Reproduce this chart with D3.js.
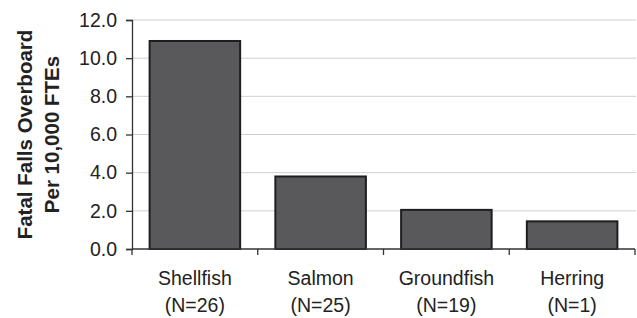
<!DOCTYPE html>
<html>
<head>
<meta charset="utf-8">
<script src="https://cdn.jsdelivr.net/npm/d3@7"></script>
<style>
  body { margin: 0; background: #fff; }
  text { font-family: "Liberation Sans", Arial, sans-serif; fill: #222; }
</style>
</head>
<body>
<div id="chart"></div>
<script>
// data
const categories = ["Shellfish", "Salmon", "Groundfish", "Herring"];
const counts = ["(N=26)", "(N=25)", "(N=19)", "(N=1)"];
const rates = [10.9, 3.8, 2.05, 1.45];
const yTicks = [0, 2, 4, 6, 8, 10, 12];
const titleLines = ["Fatal Falls Overboard", "Per 10,000 FTEs"];

// dimensions
const width = 637, height = 318;
const margin = {top: 20, right: 2, bottom: 69, left: 132};

const svg = d3.select("#chart").append("svg")
    .attr("width", width).attr("height", height);

const x = d3.scaleBand()
    .domain(categories)
    .range([margin.left, width - margin.right])
    .paddingInner(0.28)
    .paddingOuter(0.14);

const y = d3.scaleLinear()
    .domain([0, 12])
    .range([height - margin.bottom, margin.top]);

// gridlines
svg.append("g")
  .selectAll("line")
  .data(yTicks.filter(d => d > 0))
  .join("line")
    .attr("x1", margin.left).attr("x2", width - 1)
    .attr("y1", d => y(d)).attr("y2", d => y(d))
    .attr("stroke", "#cfcfcf").attr("stroke-width", 1);

// bars
svg.append("g")
  .selectAll("rect")
  .data(rates)
  .join("rect")
    .attr("x", (d, i) => x(categories[i]))
    .attr("y", d => y(d))
    .attr("width", x.bandwidth())
    .attr("height", d => y(0) - y(d))
    .attr("fill", "#59595b")
    .attr("stroke", "#1e1e1e")
    .attr("stroke-width", 2);

// y axis
const yAxis = svg.append("g")
    .attr("transform", `translate(${margin.left},0)`)
    .call(d3.axisLeft(y).tickValues(yTicks).tickFormat(d3.format(".1f")).tickSize(6).tickPadding(9));
yAxis.select(".domain").attr("stroke", "#333").attr("stroke-width", 1.3);
yAxis.selectAll(".tick line").attr("stroke", "#333").attr("stroke-width", 1.3);
yAxis.selectAll("text").style("font-size", "19.5px").attr("fill", "#222");

// x axis: ticks between categories (Excel style)
const step = x.step();
const boundaries = d3.range(categories.length + 1).map(i => margin.left + i * step);
const xAxis = svg.append("g");
xAxis.append("line")
    .attr("x1", margin.left).attr("x2", width - margin.right)
    .attr("y1", y(0)).attr("y2", y(0))
    .attr("stroke", "#333").attr("stroke-width", 1.3);
xAxis.selectAll("line.tick")
  .data(boundaries)
  .join("line")
    .attr("class", "tick")
    .attr("x1", d => d).attr("x2", d => d)
    .attr("y1", y(0)).attr("y2", y(0) + 6)
    .attr("stroke", "#333").attr("stroke-width", 1.3);

const labels = xAxis.selectAll("text")
  .data(categories)
  .join("text")
    .attr("text-anchor", "middle")
    .style("font-size", "19.5px")
    .attr("x", d => x(d) + x.bandwidth() / 2)
    .attr("y", y(0) + 36);
labels.append("tspan").attr("x", d => x(d) + x.bandwidth() / 2).text(d => d);
labels.append("tspan").attr("x", d => x(d) + x.bandwidth() / 2).attr("dy", 27)
    .text((d, i) => counts[i]);

// y axis title
const title = svg.append("text")
    .attr("transform", `translate(32,${(y(0) + y(12)) / 2}) rotate(-90)`)
    .attr("text-anchor", "middle")
    .style("font-size", "20.5px")
    .style("font-weight", "bold");
title.selectAll("tspan")
  .data(titleLines)
  .join("tspan")
    .attr("x", 0)
    .attr("dy", (d, i) => i === 0 ? 0 : 27)
    .text(d => d);
</script>
</body>
</html>
